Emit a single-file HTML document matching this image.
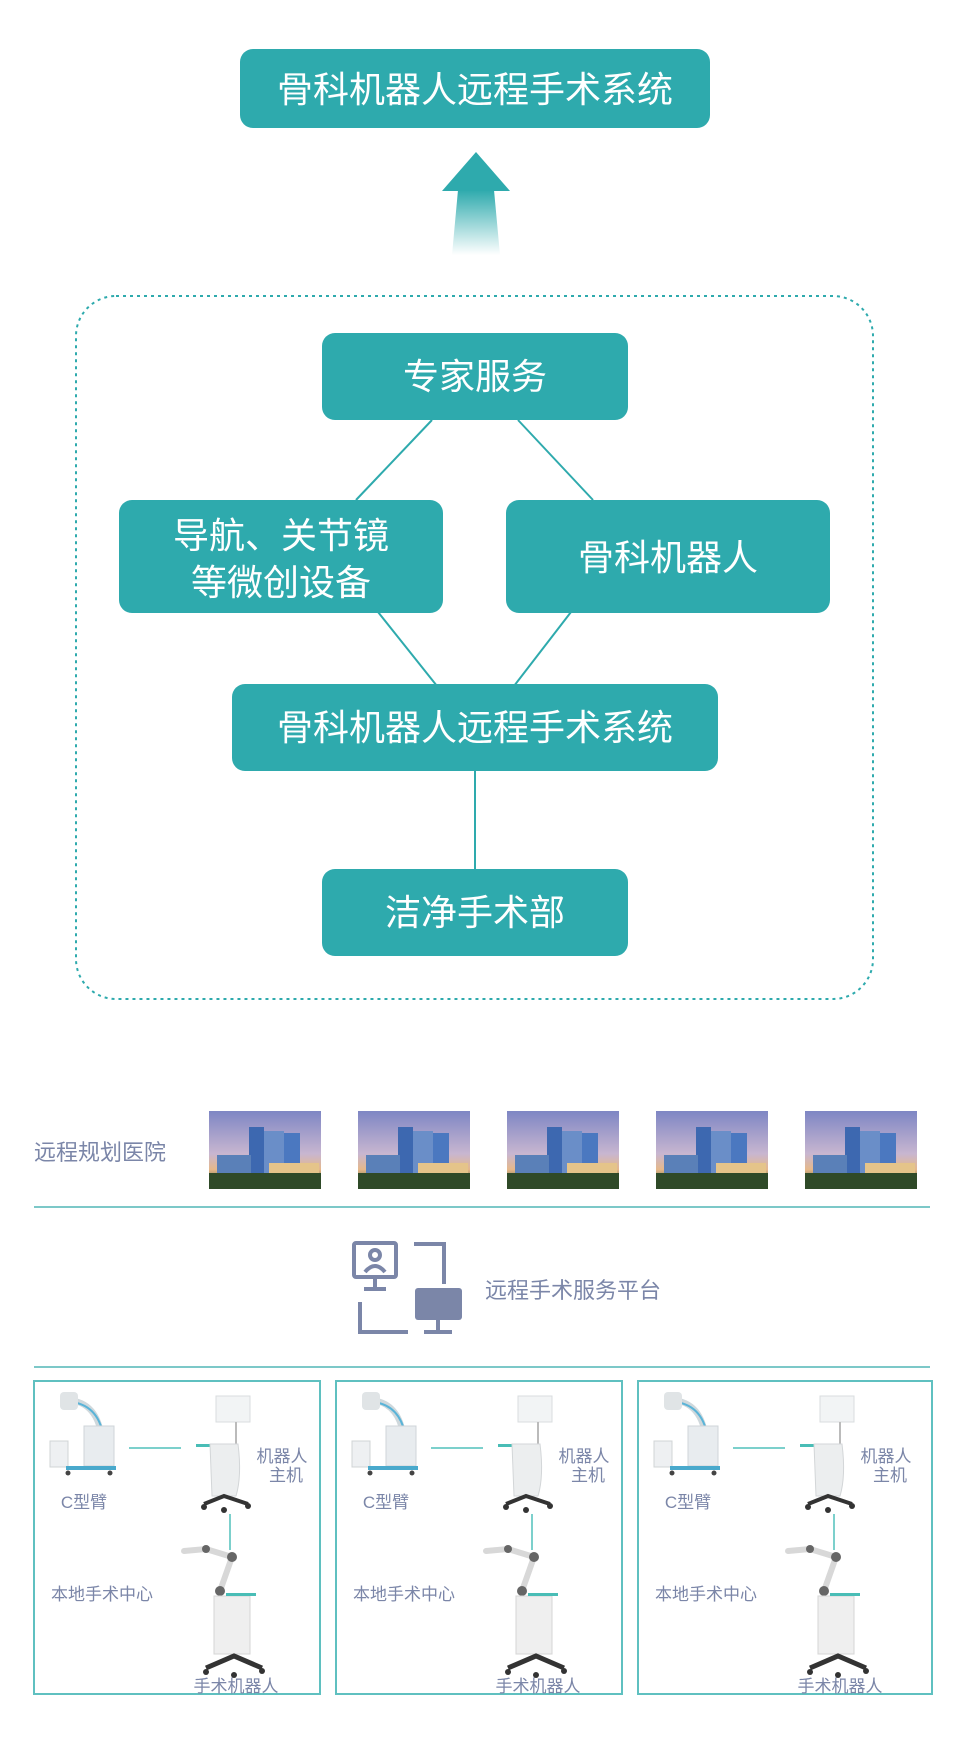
<!DOCTYPE html>
<html><head><meta charset="utf-8"><style>
html,body{margin:0;padding:0;background:#fff;}
body{width:961px;height:1752px;overflow:hidden;}
svg text{font-family:"Liberation Sans","Noto Sans CJK SC",sans-serif;}
</style></head><body>
<svg width="961" height="1752" viewBox="0 0 961 1752" xmlns="http://www.w3.org/2000/svg">
<defs>
<linearGradient id="stem" x1="0" y1="0" x2="0" y2="1"><stop offset="0" stop-color="#2eaaad"/><stop offset="1" stop-color="#2eaaad" stop-opacity="0"/></linearGradient>
<linearGradient id="sky" x1="0" y1="0" x2="0" y2="1"><stop offset="0" stop-color="#7e86c4"/><stop offset="0.55" stop-color="#c8b6d0"/><stop offset="0.75" stop-color="#e6b88a"/><stop offset="1" stop-color="#33502e"/></linearGradient>
<g id="hosp">
<rect x="0" y="0" width="112" height="78" fill="url(#sky)"/>
<rect x="40" y="16" width="15" height="46" fill="#3d68b0"/>
<rect x="55" y="20" width="20" height="42" fill="#6a8ec8"/>
<rect x="75" y="22" width="16" height="40" fill="#4b78c0"/>
<rect x="8" y="44" width="34" height="20" fill="#5a80b8"/>
<rect x="60" y="52" width="50" height="14" fill="#e5c48a"/>
<rect x="0" y="62" width="112" height="16" fill="#2f4a28"/>
</g>
<g id="bay">
<path d="M22 14 q30 2 34 40 l-4 25" stroke="#cfd8dc" stroke-width="6" fill="none"/>
<path d="M26 16 q28 4 32 38" stroke="#5ab4d8" stroke-width="2" fill="none"/>
<rect x="14" y="6" width="18" height="18" rx="4" fill="#e0e4e6"/>
<rect x="4" y="55" width="18" height="26" fill="#eef0f2" stroke="#d0d4d6"/>
<rect x="38" y="40" width="30" height="40" fill="#e8ecef" stroke="#cfd5d9"/>
<rect x="20" y="80" width="50" height="4" fill="#49a9cc"/>
<circle cx="22" cy="87" r="2.5" fill="#444"/><circle cx="64" cy="87" r="2.5" fill="#444"/>
<line x1="83" y1="62" x2="135" y2="62" stroke="#7cd0cc" stroke-width="2"/>
<g transform="translate(-18,0)">
<rect x="188" y="10" width="34" height="26" fill="#f2f4f5" stroke="#d9dddf"/>
<line x1="208" y1="36" x2="208" y2="58" stroke="#bbb" stroke-width="2"/>
<rect x="168" y="58" width="30" height="3" fill="#49bdb6"/>
<path d="M182 58 h28 q4 32 -2 52 h-24 z" fill="#eceeef" stroke="#d3d6d8"/>
<path d="M176 118 l20 -8 l24 8" stroke="#333" stroke-width="4" fill="none"/>
<circle cx="176" cy="121" r="3" fill="#333"/><circle cx="196" cy="124" r="3" fill="#333"/><circle cx="220" cy="120" r="3" fill="#333"/>
</g>
<text x="236" y="76" fill="#7b86a8" font-size="17" text-anchor="middle">机器人</text>
<text x="240" y="95" fill="#7b86a8" font-size="17" text-anchor="middle">主机</text>
<text x="38" y="122" fill="#7b86a8" font-size="17" text-anchor="middle">C型臂</text>
<line x1="184" y1="128" x2="184" y2="164" stroke="#7cd0cc" stroke-width="2"/>
<g transform="translate(-12,0)">
<path d="M150 165 l22 -2 l26 8 l-12 34" stroke="#d8d8d8" stroke-width="6" fill="none" stroke-linecap="round"/>
<circle cx="172" cy="163" r="4" fill="#666"/><circle cx="198" cy="171" r="5" fill="#666"/><circle cx="186" cy="205" r="5" fill="#666"/>
<rect x="180" y="210" width="36" height="58" fill="#efefef" stroke="#d5d5d5"/>
<rect x="192" y="207" width="30" height="3" fill="#49bdb6"/>
<path d="M172 282 l28 -12 l28 12" stroke="#333" stroke-width="5" fill="none"/>
<circle cx="172" cy="286" r="3" fill="#333"/><circle cx="200" cy="289" r="3" fill="#333"/><circle cx="228" cy="285" r="3" fill="#333"/>
</g>
<text x="56" y="214" fill="#7b86a8" font-size="17" text-anchor="middle">本地手术中心</text>
<text x="190" y="306" fill="#7b86a8" font-size="17" text-anchor="middle">手术机器人</text>
</g>
</defs>

<rect x="240" y="49" width="470" height="79" rx="13" fill="#2eaaad"/>
<text x="475" y="102" fill="#fff" font-size="36" text-anchor="middle">骨科机器人远程手术系统</text>
<polygon points="476,152 442,191 510,191" fill="#2eaaad"/>
<polygon points="458,190 494,190 500,255 452,255" fill="url(#stem)"/>

<rect x="76" y="296" width="797" height="703" rx="40" fill="none" stroke="#2eaaad" stroke-width="2" stroke-dasharray="3,4"/>

<g stroke="#2eaaad" stroke-width="2">
<line x1="432" y1="420" x2="356" y2="500"/>
<line x1="518" y1="420" x2="593" y2="500"/>
<line x1="378" y1="612" x2="437" y2="686"/>
<line x1="571" y1="612" x2="514" y2="686"/>
<line x1="475" y1="770" x2="475" y2="870"/>
</g>
<rect x="322" y="333" width="306" height="87" rx="13" fill="#2eaaad"/>
<text x="475" y="389" fill="#fff" font-size="36" text-anchor="middle">专家服务</text>
<rect x="119" y="500" width="324" height="113" rx="13" fill="#2eaaad"/>
<text x="281" y="548" fill="#fff" font-size="36" text-anchor="middle">导航、关节镜</text>
<text x="281" y="595" fill="#fff" font-size="36" text-anchor="middle">等微创设备</text>
<rect x="506" y="500" width="324" height="113" rx="13" fill="#2eaaad"/>
<text x="668" y="570" fill="#fff" font-size="36" text-anchor="middle">骨科机器人</text>
<rect x="232" y="684" width="486" height="87" rx="13" fill="#2eaaad"/>
<text x="475" y="740" fill="#fff" font-size="36" text-anchor="middle">骨科机器人远程手术系统</text>
<rect x="322" y="869" width="306" height="87" rx="13" fill="#2eaaad"/>
<text x="475" y="925" fill="#fff" font-size="36" text-anchor="middle">洁净手术部</text>

<text x="34" y="1160" fill="#7b86a8" font-size="22">远程规划医院</text>
<use href="#hosp" x="209" y="1111"/>
<use href="#hosp" x="358" y="1111"/>
<use href="#hosp" x="507" y="1111"/>
<use href="#hosp" x="656" y="1111"/>
<use href="#hosp" x="805" y="1111"/>
<line x1="34" y1="1207" x2="930" y2="1207" stroke="#7cc8c8" stroke-width="2"/>

<g fill="none" stroke="#7b86a8" stroke-width="4">
<rect x="354" y="1243" width="42" height="34" rx="2"/>
<line x1="375" y1="1277" x2="375" y2="1288"/><line x1="364" y1="1289" x2="386" y2="1289"/>
<circle cx="375" cy="1255" r="5"/><path d="M365 1272 q10 -12 20 0"/>
<path d="M414 1244 h30 v40"/>
<path d="M360 1302 v30 h48"/>
<line x1="438" y1="1318" x2="438" y2="1331"/><line x1="424" y1="1332" x2="452" y2="1332"/>
</g>
<rect x="415" y="1288" width="47" height="32" rx="3" fill="#7b86a8"/>
<text x="485" y="1298" fill="#7b86a8" font-size="22">远程手术服务平台</text>
<line x1="34" y1="1367" x2="930" y2="1367" stroke="#7cc8c8" stroke-width="2"/>

<g fill="none" stroke="#5fc0c0" stroke-width="2">
<rect x="34" y="1381" width="286" height="313"/>
<rect x="336" y="1381" width="286" height="313"/>
<rect x="638" y="1381" width="294" height="313"/>
</g>
<use href="#bay" x="46" y="1386"/>
<use href="#bay" x="348" y="1386"/>
<use href="#bay" x="650" y="1386"/>
</svg>
</body></html>
